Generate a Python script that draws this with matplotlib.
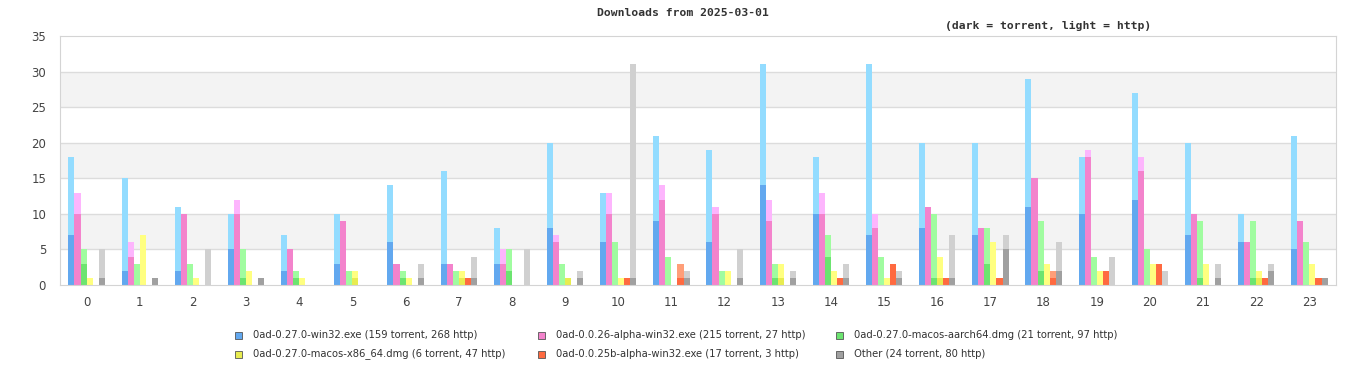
import numpy as np
import matplotlib
matplotlib.use("Agg")
import matplotlib.pyplot as plt
from matplotlib.patches import Rectangle

hours = list(range(24))

series = [
    "0ad-0.27.0-win32.exe (159 torrent, 268 http)",
    "0ad-0.0.26-alpha-win32.exe (215 torrent, 27 http)",
    "0ad-0.27.0-macos-aarch64.dmg (21 torrent, 97 http)",
    "0ad-0.27.0-macos-x86_64.dmg (6 torrent, 47 http)",
    "0ad-0.0.25b-alpha-win32.exe (17 torrent, 3 http)",
    "Other (24 torrent, 80 http)",
]

# torrent downloads per hour
win32_t = [7, 2, 2, 5, 2, 3, 6, 3, 3, 8, 6, 9, 6, 14, 10, 7, 8, 7, 11, 10, 12, 7, 6, 5]
a26_t = [10, 4, 10, 10, 5, 9, 3, 3, 3, 6, 10, 12, 10, 9, 10, 8, 11, 8, 15, 18, 16, 10, 6, 9]
arm_t = [3, 0, 0, 1, 1, 0, 1, 0, 2, 0, 0, 0, 0, 1, 4, 0, 1, 3, 2, 0, 0, 1, 1, 0]
x86_t = [0, 0, 0, 0, 0, 1, 0, 1, 0, 1, 0, 0, 0, 1, 0, 0, 1, 0, 0, 0, 0, 0, 1, 0]
a25_t = [0, 0, 0, 0, 0, 0, 0, 1, 0, 0, 1, 1, 0, 0, 1, 3, 1, 1, 1, 2, 3, 0, 1, 1]
other_t = [1, 1, 0, 1, 0, 0, 1, 1, 0, 1, 1, 1, 1, 1, 1, 1, 1, 5, 2, 0, 0, 1, 2, 1]

# http downloads per hour
win32_h = [11, 13, 9, 5, 5, 7, 8, 13, 5, 12, 7, 12, 13, 17, 8, 24, 12, 13, 18, 8, 15, 13, 4, 16]
a26_h = [3, 2, 0, 2, 0, 0, 0, 0, 2, 1, 3, 2, 1, 3, 3, 2, 0, 0, 0, 1, 2, 0, 0, 0]
arm_h = [2, 3, 3, 4, 1, 2, 1, 2, 3, 3, 6, 4, 2, 2, 3, 4, 9, 5, 7, 4, 5, 8, 8, 6]
x86_h = [1, 7, 1, 2, 1, 1, 1, 1, 0, 0, 1, 0, 2, 2, 2, 1, 3, 6, 3, 2, 3, 3, 1, 3]
a25_h = [0, 0, 0, 0, 0, 0, 0, 0, 0, 0, 0, 2, 0, 0, 0, 0, 0, 0, 1, 0, 0, 0, 0, 0]
other_h = [4, 0, 5, 0, 0, 0, 2, 3, 5, 1, 30, 1, 4, 1, 2, 1, 6, 2, 4, 4, 2, 2, 1, 0]

torrent = [win32_t, a26_t, arm_t, x86_t, a25_t, other_t]
http = [win32_h, a26_h, arm_h, x86_h, a25_h, other_h]

dark = ["#62a8ef", "#f383cc", "#6ce470", "#e8ec50", "#ff6a40", "#a0a0a0"]
light = ["#93dcff", "#fdb5fd", "#a0fca0", "#ffff80", "#ff9e78", "#d0d0d0"]

fig = plt.figure(figsize=(13.66, 3.8), dpi=100)
ax = fig.add_axes([60 / 1366, 95 / 380, 1276 / 1366, 249 / 380])

# striped background
for lo in range(5, 35, 10):
    ax.axhspan(lo, lo + 5, color="#f3f3f3", zorder=0, lw=0)
for y in range(5, 35, 5):
    ax.axhline(y, color="#dcdcdc", lw=1, zorder=1)

x = np.arange(len(hours))
w = 0.114
for k in range(6):
    pos = x + (k - 2.5) * w
    ax.bar(pos, torrent[k], width=w, color=dark[k], zorder=2, lw=0)
    ax.bar(pos, http[k], width=w, bottom=torrent[k], color=light[k], zorder=2, lw=0)

ax.set_xlim(-0.5, 23.5)
ax.set_ylim(0, 35)
ax.set_yticks(range(0, 36, 5))
ax.set_xticks(x)
ax.set_xticklabels([str(h) for h in hours])
ax.tick_params(length=0, labelsize=8.5, colors="#444444", pad=8)
ax.tick_params(axis="y", pad=10)
for s in ax.spines.values():
    s.set_color("#d4d4d4")

fig.text(0.5, 1 - 13 / 380, "Downloads from 2025-03-01", ha="center", va="center",
         family="DejaVu Sans Mono", weight="bold", fontsize=8.2, color="#333333")
fig.text(1048 / 1366, 1 - 26 / 380, "(dark = torrent, light = http)", ha="center", va="center",
         family="DejaVu Sans Mono", weight="bold", fontsize=8.2, color="#333333")

# legend, two rows of three
leg_x = [238, 541, 839]
leg_y = [335, 354]
for k, name in enumerate(series):
    cx = leg_x[k % 3]
    cy = leg_y[k // 3]
    fig.patches.append(Rectangle(((cx - 3.5) / 1366, 1 - (cy + 3.5) / 380), 7 / 1366, 7 / 380,
                                 transform=fig.transFigure, facecolor=dark[k],
                                 edgecolor="#555555", lw=0.6))
    fig.text((cx + 15) / 1366, 1 - cy / 380, name, ha="left", va="center",
             family="DejaVu Sans", stretch="condensed", fontsize=8, color="#333333")

fig.savefig("out.png", dpi=100)
